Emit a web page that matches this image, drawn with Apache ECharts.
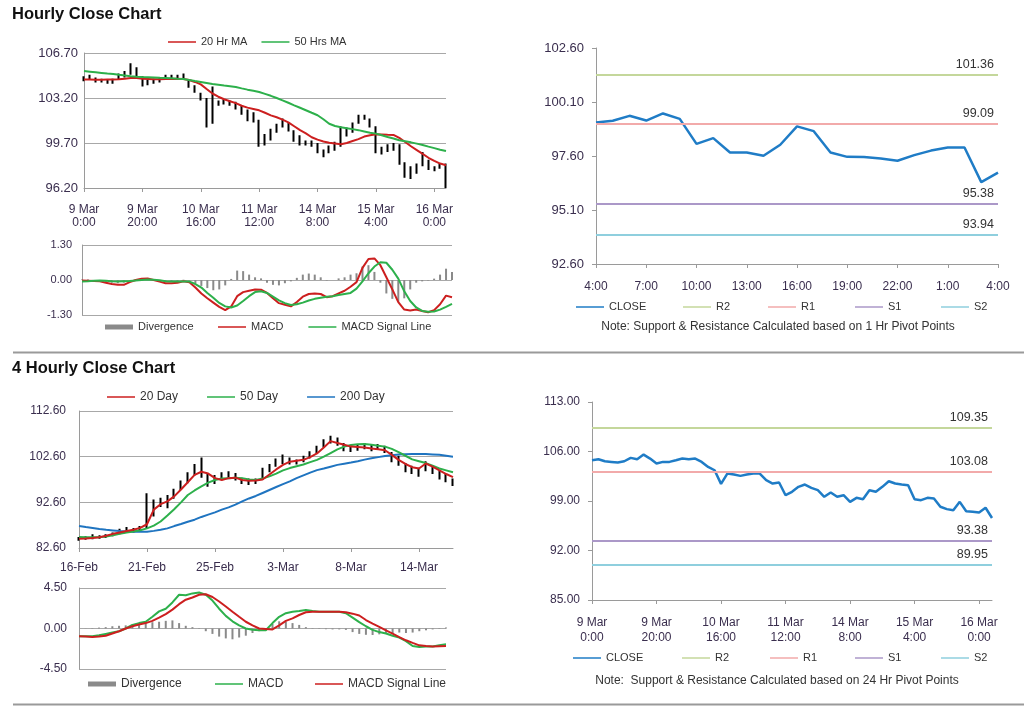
<!DOCTYPE html>
<html><head><meta charset="utf-8">
<script src="https://cdn.jsdelivr.net/npm/echarts@6/dist/echarts.min.js"></script>
<style>html,body{margin:0;padding:0;background:#fff}#c{width:1024px;height:706px}</style>
</head><body><div id="c"></div>
<script>
// ---------- DATA ----------
// Hourly chart (top-left), one point every 2 hours from 9 Mar 0:00
const hourlyTicks = ['9 Mar\n0:00','9 Mar\n20:00','10 Mar\n16:00','11 Mar\n12:00','14 Mar\n8:00','15 Mar\n4:00','16 Mar\n0:00'];
const hourlyYTicks = [96.2, 99.7, 103.2, 106.7];
const hourlyClose = [104.7,104.8,104.6,104.5,104.4,104.5,104.9,105.0,105.5,105.2,104.3,104.4,104.5,104.6,104.9,104.8,104.9,104.8,104.3,103.8,103.3,101.0,102.9,102.8,102.9,102.8,102.6,102.3,101.8,101.7,99.7,99.9,100.4,100.9,101.3,100.9,100.2,99.8,99.7,99.6,99.2,98.8,99.2,99.4,100.6,100.5,100.9,101.6,101.7,101.3,99.2,99.0,99.3,99.4,98.3,97.6,97.4,97.8,98.6,97.9,97.7,97.9,96.4];
const hourlyLow = [104.5,104.6,104.4,104.4,104.3,104.3,104.6,104.8,105.0,104.9,104.1,104.2,104.3,104.4,104.7,104.7,104.7,104.6,104.0,103.6,103.0,100.9,101.2,102.6,102.7,102.6,102.3,101.9,101.4,101.3,99.4,99.5,99.9,100.5,100.9,100.6,99.8,99.5,99.5,99.4,98.9,98.6,98.9,99.1,99.4,100.2,100.5,101.2,101.5,100.9,98.9,98.8,99.0,99.1,98.0,97.0,96.9,97.3,97.9,97.6,97.5,97.7,96.2];
const hourlyHigh = [104.9,105.0,104.8,104.7,104.6,104.7,105.1,105.3,105.9,105.6,104.9,104.6,104.7,104.8,105.0,105.0,105.0,105.1,104.6,104.2,103.6,103.2,104.1,103.0,103.1,103.0,102.9,102.6,102.3,102.1,101.5,100.4,100.8,101.2,101.6,101.3,100.7,100.3,99.9,99.9,99.7,99.2,99.5,99.8,101.0,100.9,101.3,101.9,101.9,101.6,101.0,99.4,99.6,99.7,99.6,98.2,97.9,98.1,99.0,98.4,97.9,98.1,98.1];
const hourlyMA20 = [104.63,104.63,104.62,104.62,104.63,104.63,104.65,104.7,104.75,104.75,104.7,104.68,104.66,104.66,104.67,104.68,104.69,104.68,104.6,104.45,104.26,103.9,103.55,103.3,103.1,102.95,102.8,102.6,102.45,102.35,102.24,102.05,101.85,101.7,101.52,101.3,101.0,100.7,100.45,100.15,99.96,99.82,99.72,99.66,99.6,99.7,99.85,100.0,100.2,100.3,100.38,100.36,100.34,100.33,100.1,99.78,99.45,99.15,98.85,98.55,98.31,98.1,97.97];
const hourlyMA50 = [105.30,105.25,105.2,105.15,105.1,105.06,105.0,104.95,104.9,104.86,104.83,104.81,104.79,104.77,104.76,104.73,104.7,104.68,104.6,104.52,104.45,104.37,104.29,104.23,104.17,104.12,104.06,103.95,103.85,103.77,103.67,103.52,103.37,103.2,103.02,102.83,102.63,102.44,102.25,102.05,101.86,101.55,101.2,101.02,100.92,100.85,100.78,100.7,100.6,100.5,100.43,100.3,100.17,100.05,99.91,99.83,99.75,99.65,99.55,99.42,99.3,99.18,99.08];
const hourlyMacdYTicks = [-1.3, 0, 1.3];
const hourlyMacd = [-0.02,-0.03,-0.04,-0.05,-0.1,-0.15,-0.18,-0.18,-0.08,0.0,0.05,0.06,0.0,-0.06,-0.12,-0.12,-0.1,-0.05,-0.08,-0.28,-0.5,-0.68,-0.84,-1.0,-1.12,-0.98,-0.6,-0.45,-0.4,-0.35,-0.36,-0.48,-0.68,-0.86,-0.92,-0.98,-0.82,-0.62,-0.52,-0.5,-0.52,-0.64,-0.6,-0.5,-0.4,-0.25,-0.08,0.45,0.78,0.8,0.55,0.1,-0.35,-0.82,-1.1,-1.13,-1.1,-1.15,-1.2,-1.12,-0.9,-0.58,-0.64];
const hourlySignal = [-0.06,-0.05,-0.03,-0.02,-0.03,-0.05,-0.06,-0.05,-0.04,-0.02,0.0,0.02,0.01,-0.01,-0.05,-0.06,-0.06,-0.06,-0.06,-0.15,-0.28,-0.48,-0.66,-0.85,-0.98,-1.02,-0.95,-0.78,-0.6,-0.45,-0.42,-0.48,-0.62,-0.76,-0.86,-0.93,-0.9,-0.84,-0.76,-0.7,-0.66,-0.62,-0.6,-0.56,-0.52,-0.48,-0.32,-0.05,0.25,0.5,0.66,0.64,0.38,0.05,-0.42,-0.78,-1.02,-1.15,-1.18,-1.17,-1.1,-1.0,-0.89];
const hourlyDiv = [0.02,0.02,-0.02,-0.03,-0.07,-0.1,-0.12,-0.1,-0.04,0.02,0.05,0.04,0.0,-0.05,-0.07,-0.06,-0.04,0.01,-0.02,-0.13,-0.22,-0.3,-0.38,-0.35,-0.2,0.04,0.35,0.33,0.2,0.1,0.06,-0.1,-0.18,-0.2,-0.12,-0.05,0.08,0.2,0.24,0.2,0.1,-0.02,0.0,0.06,0.1,0.2,0.25,0.5,0.55,0.3,-0.1,-0.5,-0.7,-0.8,-0.68,-0.35,-0.1,-0.05,-0.02,0.05,0.2,0.42,0.3];

// Last 24 hours close (top-right)
const pivot1hTicks = ['4:00','7:00','10:00','13:00','16:00','19:00','22:00','1:00','4:00'];
const pivot1hYTicks = [92.6, 95.1, 97.6, 100.1, 102.6];
const pivot1hClose = [99.15,99.23,99.46,99.24,99.57,99.32,98.16,98.43,97.76,97.76,97.61,98.12,98.97,98.75,97.76,97.56,97.55,97.48,97.38,97.64,97.85,97.99,97.99,96.39,96.83];
const pivotNames = ['R2','R1','S1','S2'];
const pivot1hLevels = [101.36, 99.09, 95.38, 93.94];

// 4 hourly chart (bottom-left)
const fourHTicks = ['16-Feb','21-Feb','25-Feb','3-Mar','8-Mar','14-Mar'];
const fourHYTicks = [82.6, 92.6, 102.6, 112.6];
const fourHClose = [84.6,84.8,84.9,85.0,85.2,85.6,86.3,86.6,86.6,86.9,88.5,92.0,92.6,93.0,94.8,96.5,98.0,99.6,99.4,97.5,97.5,98.4,98.8,98.2,97.2,97.0,97.2,99.0,100.2,101.2,102.0,101.6,101.5,102.0,103.0,104.2,105.6,106.5,105.8,104.6,104.2,104.5,104.8,104.5,104.8,104.2,102.4,101.6,100.2,99.6,99.0,100.6,99.8,98.6,97.8,97.0];
const fourHLow = [84.2,84.4,84.5,84.6,84.8,85.2,85.6,86.1,86.0,86.2,86.8,89.5,91.6,91.3,93.4,95.3,96.8,98.5,98.0,96.0,96.6,97.5,98.0,97.4,96.6,96.4,96.6,97.6,99.2,100.4,101.0,100.9,100.9,101.4,102.2,103.3,104.6,105.5,105.0,103.8,103.6,103.9,104.2,103.8,104.2,103.4,101.4,100.6,99.2,98.8,98.2,99.4,98.8,97.6,97.0,96.2];
const fourHHigh = [85.0,85.2,85.6,85.4,85.6,86.0,86.8,87.2,87.0,87.4,94.6,93.2,93.6,94.2,95.6,97.4,99.2,101.0,102.4,99.0,98.6,99.2,99.4,99.0,98.0,97.8,97.8,100.2,101.0,102.2,103.1,102.4,102.0,102.8,103.8,105.0,106.4,107.2,106.8,105.6,105.0,105.3,105.6,105.2,105.4,105.0,103.6,102.8,101.2,100.6,100.2,101.6,100.8,99.6,98.8,97.8];
const fourHMA20 = [84.64,84.7,84.8,84.95,85.3,85.7,86.0,86.3,86.6,87.0,87.8,91.0,92.2,92.8,93.9,95.4,97.0,98.6,99.3,98.9,97.9,97.5,97.9,98.0,97.5,97.3,97.4,97.6,98.7,99.8,100.8,101.5,101.7,101.9,102.5,103.3,104.6,106.0,105.6,105.2,104.8,104.7,104.6,104.4,104.2,104.0,103.0,101.9,101.0,100.3,100.0,101.1,100.4,99.6,98.8,98.1];
const fourHMA50 = [85.0,84.95,84.93,84.95,85.1,85.4,85.7,86.0,86.2,86.5,86.9,87.5,88.4,89.7,91.1,92.6,94.2,95.2,96.1,96.9,97.5,97.8,97.9,98.0,97.9,97.6,97.5,97.8,98.3,98.9,99.6,100.1,100.5,100.9,101.4,101.9,102.6,103.4,104.2,104.8,105.15,105.3,105.35,105.2,105.0,104.8,104.3,103.6,102.8,102.0,101.6,101.2,100.6,100.0,99.6,99.2];
const fourHMA200 = [87.42,87.2,87.0,86.76,86.6,86.45,86.3,86.2,86.18,86.18,86.18,86.35,86.6,86.9,87.4,87.85,88.35,88.8,89.4,89.9,90.4,91.0,91.5,92.1,92.8,93.45,94.0,94.65,95.3,95.95,96.6,97.2,97.9,98.5,99.1,99.65,100.0,100.4,100.8,101.05,101.3,101.6,101.95,102.25,102.5,102.75,102.9,103.05,103.15,103.18,103.18,103.18,103.1,103.0,102.8,102.6];
const fourHMacdYTicks = [-4.5, 0, 4.5];
const fourHMacd = [-0.86,-0.86,-0.86,-0.75,-0.6,-0.45,-0.3,0.0,0.4,0.6,0.75,1.3,1.9,2.2,2.9,3.75,3.7,3.9,4.0,3.75,3.1,2.2,1.4,0.8,0.35,0.0,-0.15,-0.19,-0.19,0.6,1.3,1.7,1.87,1.95,2.06,1.95,1.87,1.87,1.87,1.85,1.69,1.2,0.7,0.25,-0.15,-0.4,-0.56,-0.8,-1.01,-1.4,-1.95,-2.05,-2.0,-1.99,-1.85,-1.76];
const fourHSignal = [-0.86,-0.9,-0.94,-0.9,-0.8,-0.55,-0.3,0.0,0.25,0.45,0.6,0.85,1.2,1.6,2.1,2.7,3.2,3.45,3.75,3.8,3.5,3.0,2.45,1.87,1.3,0.75,0.35,0.0,-0.05,-0.1,0.35,0.85,1.12,1.5,1.8,1.85,1.87,1.87,1.87,1.87,1.8,1.65,1.45,0.94,0.55,0.19,-0.2,-0.56,-0.95,-1.31,-1.6,-1.87,-1.95,-1.99,-1.97,-1.95];
const fourHDiv = [0,0.02,0.05,0.1,0.15,0.25,0.3,0.35,0.4,0.45,0.55,0.7,0.75,0.85,0.9,0.6,0.3,0.15,0.05,-0.3,-0.6,-0.9,-1.1,-1.2,-1.0,-0.8,-0.5,-0.3,-0.1,0.5,0.8,0.75,0.6,0.4,0.15,0.05,-0.05,-0.08,-0.1,-0.1,-0.15,-0.4,-0.6,-0.7,-0.72,-0.65,-0.6,-0.5,-0.45,-0.5,-0.45,-0.3,-0.2,-0.1,0.05,0.1];

// Hourly close with 24 hr pivots (bottom-right), every 2 hours from 9 Mar 0:00
const pivot24Ticks = ['9 Mar\n0:00','9 Mar\n20:00','10 Mar\n16:00','11 Mar\n12:00','14 Mar\n8:00','15 Mar\n4:00','16 Mar\n0:00'];
const pivot24YTicks = [85, 92, 99, 106, 113];
const pivot24Close = [104.76,104.9,104.62,104.53,104.44,104.62,105.1,104.9,105.56,105.0,104.3,104.53,104.53,104.76,105.0,104.9,105.0,104.53,103.82,103.35,101.42,102.9,102.74,102.55,102.74,102.88,102.88,101.94,101.47,101.61,99.82,100.3,101.0,101.33,100.86,100.53,99.59,100.2,99.59,99.82,98.88,99.45,99.26,100.53,100.3,101.0,101.8,101.47,101.33,101.24,99.26,99.12,99.45,99.35,98.18,97.85,97.7,98.88,97.55,97.47,97.38,98.04,96.6];
const pivot24Levels = [109.35, 103.08, 93.38, 89.95];

// ---------- STYLE ----------
const FONT = '"Liberation Sans", Arial, Helvetica, sans-serif';
const AX = '#9a9a9a';
const LBL = '#3a2e4e';
const RED = '#cc1f1f', GREEN = '#2db04b', BLUE = '#1f74c0', CLOSEC = '#1f7cc6';
const pivotColors = ['#c4d79b', '#f2aaaa', '#ab98c8', '#8fcfde'];

const grids = [
  {left: 84, top: 53, width: 362, height: 135},   // 0 hourly price
  {left: 82, top: 245, width: 370, height: 70},   // 1 hourly macd
  {left: 596, top: 48, width: 402, height: 216},  // 2 1hr pivots
  {left: 79, top: 411, width: 374, height: 137},  // 3 4hr price
  {left: 79, top: 588, width: 367, height: 81},   // 4 4hr macd
  {left: 592, top: 402, width: 400, height: 198}  // 5 24hr pivots
];

function catAxis(g, n, labels, every, o) {
  o = o || {};
  return {
    type: 'category', gridIndex: g, boundaryGap: false,
    data: Array.from({length: n}, (_, i) => String(i)),
    show: o.show !== false,
    axisLine: {show: true, onZero: false, lineStyle: {color: AX, width: 1}},
    axisTick: {show: true, interval: every - 1, length: 4, lineStyle: {color: AX}},
    axisLabel: {
      show: !!labels, interval: every - 1, margin: o.margin || 8,
      fontFamily: FONT, fontSize: o.fontSize || 12, color: LBL, lineHeight: o.lineHeight || 14,
      formatter: (v, i) => (labels && i % every === 0) ? labels[i / every] : ''
    },
    splitLine: {show: false}
  };
}
function valAxis(g, ticks, o) {
  o = o || {};
  return {
    type: 'value', gridIndex: g, min: ticks[0], max: ticks[ticks.length - 1],
    axisLine: {show: true, lineStyle: {color: AX, width: 1}},
    axisTick: {show: !!o.ticks, length: 4, customValues: ticks, lineStyle: {color: AX}},
    axisLabel: {customValues: ticks, margin: o.margin || 6, fontFamily: FONT, fontSize: o.fontSize || 12, color: LBL,
      formatter: v => v.toFixed(2)},
    splitLine: {show: !!o.split, lineStyle: {color: '#a8a8a8', width: 1}}
  };
}

const xAxis = [
  catAxis(0, hourlyClose.length, hourlyTicks, 10, {margin: 15, lineHeight: 13}),
  catAxis(1, hourlyMacd.length, null, 10, {show: false}),
  catAxis(2, pivot1hClose.length, pivot1hTicks, 3, {margin: 16}),
  catAxis(3, fourHClose.length, fourHTicks, 10, {margin: 13}),
  catAxis(4, fourHMacd.length, null, 10, {show: false}),
  catAxis(5, pivot24Close.length, pivot24Ticks, 10, {margin: 15, lineHeight: 15})
];
const yAxis = [
  valAxis(0, hourlyYTicks, {split: true, margin: 6, fontSize: 13}),
  valAxis(1, hourlyMacdYTicks, {split: true, margin: 10, fontSize: 11}),
  valAxis(2, pivot1hYTicks, {ticks: true, margin: 12, fontSize: 13}),
  valAxis(3, fourHYTicks, {split: true, margin: 13}),
  valAxis(4, fourHMacdYTicks, {split: true, margin: 12}),
  valAxis(5, pivot24YTicks, {ticks: true, margin: 12})
];

function line(name, g, data, color, w) {
  return {type: 'line', name, xAxisIndex: g, yAxisIndex: g, data, color, symbol: 'none',
    lineStyle: {color, width: w || 2}, silent: true, z: 4};
}
// high-low bars: each bar spans the period's low to high, with the close marked
function ohlc(g, close, low, high) {
  return {type: 'candlestick', name: 'price' + g, xAxisIndex: g, yAxisIndex: g, barWidth: 2, silent: true, z: 2,
    data: close.map((c, i) => [c, c, low[i], high[i]]),
    itemStyle: {color: '#000', color0: '#000', borderColor: '#000', borderColor0: '#000', borderColorDoji: '#000', borderWidth: 2}};
}
function divBars(name, g, data, w) {
  return {type: 'bar', name, xAxisIndex: g, yAxisIndex: g, data, color: '#555',
    itemStyle: {color: '#8a8a8a'}, barWidth: w, silent: true, z: 1};
}
function pivotSeries(g, levels) {
  return pivotNames.map((nm, k) => ({
    type: 'line', name: nm, xAxisIndex: g, yAxisIndex: g, data: [], color: pivotColors[k],
    lineStyle: {color: pivotColors[k], width: 2}, z: 2,
    markLine: {silent: true, symbol: ['none', 'none'], animation: false,
      lineStyle: {color: pivotColors[k], width: 2, type: 'solid'},
      label: {position: 'insideEndTop', distance: 4, fontFamily: FONT, fontSize: 12.5, color: '#333',
        formatter: p => Number(p.value).toFixed(2)},
      emphasis: {disabled: true},
      data: [{yAxis: levels[k]}]}
  }));
}

const series = [
  ohlc(0, hourlyClose, hourlyLow, hourlyHigh),
  line('20 Hr MA', 0, hourlyMA20, RED),
  line('50 Hrs MA', 0, hourlyMA50, GREEN),
  divBars('Divergence', 1, hourlyDiv, 2),
  line('MACD', 1, hourlyMacd, RED),
  line('MACD Signal Line', 1, hourlySignal, GREEN),
  line('CLOSE', 2, pivot1hClose, CLOSEC, 2.5),
  ...pivotSeries(2, pivot1hLevels),
  ohlc(3, fourHClose, fourHLow, fourHHigh),
  line('200 Day', 3, fourHMA200, BLUE),
  line('50 Day', 3, fourHMA50, GREEN),
  line('20 Day', 3, fourHMA20, RED),
  divBars('Divergence ', 4, fourHDiv, 2),
  line('MACD ', 4, fourHMacd, GREEN),
  line('MACD Signal Line ', 4, fourHSignal, RED),
  line('CLOSE', 5, pivot24Close, CLOSEC, 2.5),
  ...pivotSeries(5, pivot24Levels)
];

function lg(names, left, top, o) {
  o = o || {};
  return {data: names, left, top, padding: 0, itemWidth: o.w || 28, itemHeight: o.h || 1.5, itemGap: o.gap || 10,
    icon: 'rect', selectedMode: false,
    textStyle: {fontFamily: FONT, fontSize: o.fs || 11, color: '#333', lineHeight: 12}};
}
const legend = [
  lg(['20 Hr MA', '50 Hrs MA'], 168, 36, {gap: 14}),
  lg(['Divergence'], 105, 321, {h: 5}),
  lg(['MACD', 'MACD Signal Line'], 218, 321, {gap: 25}),
  lg(['CLOSE'], 576, 301), lg(['R2'], 683, 301), lg(['R1'], 768, 301), lg(['S1'], 855, 301), lg(['S2'], 941, 301),
  lg(['20 Day', '50 Day', '200 Day'], 107, 391, {gap: 29, fs: 12}),
  lg(['Divergence '], 88, 678, {h: 5, fs: 12}),
  lg(['MACD '], 215, 678, {fs: 12}),
  lg(['MACD Signal Line '], 315, 678, {fs: 12}),
  lg(['CLOSE'], 573, 652), lg(['R2'], 682, 652), lg(['R1'], 770, 652), lg(['S1'], 855, 652), lg(['S2'], 941, 652)
];

const title = [
  {text: 'Hourly Close Chart', left: 12, top: 6, padding: 0, textStyle: {fontFamily: FONT, fontSize: 16.5, fontWeight: 'bold', color: '#111'}},
  {text: '4 Hourly Close Chart', left: 12, top: 360, padding: 0, textStyle: {fontFamily: FONT, fontSize: 16.5, fontWeight: 'bold', color: '#111'}}
];

const graphic = [
  {type: 'line', shape: {x1: 13, y1: 352.5, x2: 1024, y2: 352.5}, style: {stroke: '#9a9a9a', lineWidth: 2}, silent: true},
  {type: 'line', shape: {x1: 13, y1: 704.5, x2: 1024, y2: 704.5}, style: {stroke: '#9a9a9a', lineWidth: 2}, silent: true},
  {type: 'text', x: 778, y: 327, style: {text: 'Note: Support & Resistance Calculated based on 1 Hr Pivot Points', fontFamily: FONT, fontSize: 12, fill: '#333', align: 'center', verticalAlign: 'middle'}, silent: true},
  {type: 'text', x: 777, y: 681, style: {text: 'Note:  Support & Resistance Calculated based on 24 Hr Pivot Points', fontFamily: FONT, fontSize: 12, fill: '#333', align: 'center', verticalAlign: 'middle'}, silent: true}
];

const chart = echarts.init(document.getElementById('c'), null, {renderer: 'canvas', width: 1024, height: 706});
chart.setOption({animation: false, backgroundColor: '#fff', textStyle: {fontFamily: FONT},
  title, legend, grid: grids, xAxis, yAxis, series, graphic, tooltip: {show: false}});
</script></body></html>
